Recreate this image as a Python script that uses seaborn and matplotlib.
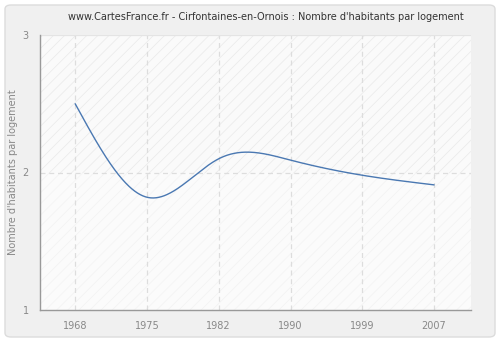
import numpy as np
import pandas as pd
import matplotlib
matplotlib.use("Agg")
import matplotlib.pyplot as plt
import seaborn as sns
from matplotlib.patches import FancyBboxPatch, Rectangle

# Data
years = ["1968", "1975", "1982", "1990", "1999", "2007"]
values = [2.50, 1.82, 2.10, 2.09, 1.98, 1.91]
yticks = [1, 2, 3]

title = "www.CartesFrance.fr - Cirfontaines-en-Ornois : Nombre d'habitants par logement"
ylabel = "Nombre d'habitants par logement"


def natural_spline(x, y, n=400):
    x = np.asarray(x, float)
    y = np.asarray(y, float)
    k = len(x)
    h = np.diff(x)
    A = np.zeros((k, k))
    b = np.zeros(k)
    A[0, 0] = 1
    A[-1, -1] = 1
    for i in range(1, k - 1):
        A[i, i - 1] = h[i - 1]
        A[i, i] = 2 * (h[i - 1] + h[i])
        A[i, i + 1] = h[i]
        b[i] = 3 * ((y[i + 1] - y[i]) / h[i] - (y[i] - y[i - 1]) / h[i - 1])
    c = np.linalg.solve(A, b)
    xs = np.linspace(x[0], x[-1], n)
    ys = np.empty_like(xs)
    for j, xv in enumerate(xs):
        i = min(np.searchsorted(x, xv, side="right") - 1, k - 2)
        dx = xv - x[i]
        bi = (y[i + 1] - y[i]) / h[i] - h[i] * (2 * c[i] + c[i + 1]) / 3
        di = (c[i + 1] - c[i]) / (3 * h[i])
        ys[j] = y[i] + bi * dx + c[i] * dx ** 2 + di * dx ** 3
    return xs, ys


sns.set_style("white")
plt.rcParams["font.family"] = ["DejaVu Sans"]
plt.rcParams["hatch.linewidth"] = 0.5

fig = plt.figure(figsize=(5, 3.4), dpi=100)
fig.patch.set_facecolor("white")
bg = FancyBboxPatch((5 / 500, 3 / 340), 490 / 500, 332 / 340,
                    boxstyle="round,pad=0,rounding_size=0.012",
                    transform=fig.transFigure, facecolor="#f0f0f0",
                    edgecolor="#dcdcdc", linewidth=1.0, zorder=-10)
fig.patches.append(bg)

ax = fig.add_axes([40 / 500, 1 - 310 / 340, 430.7 / 500, 275 / 340])
ax.set_facecolor("#fbfbfb")

ax.set_xlim(-0.49, 5.51)
ax.set_ylim(1, 3)

# upper band hatched more visibly, lower band faintly
ax.add_patch(Rectangle((-0.49, 2), 6.0, 1, facecolor="#fafafa",
                       edgecolor="#e9e9e9", hatch="///", linewidth=0, zorder=0))
ax.add_patch(Rectangle((-0.49, 1), 6.0, 1, facecolor="#fbfbfb",
                       edgecolor="#f2f2f2", hatch="///", linewidth=0, zorder=0))

idx = np.arange(len(years))
xs, ys = natural_spline(idx, values)
df = pd.DataFrame({"x": xs, "y": ys})
sns.lineplot(data=df, x="x", y="y", ax=ax, color="#4a78b2", linewidth=1.0, zorder=3)

ax.set_xticks(idx)
ax.set_xticklabels(years)
ax.set_yticks(yticks)
ax.set_yticklabels([str(t) for t in yticks])

for i in idx:
    ax.axvline(i, color="#dddddd", linestyle=(0, (4, 3)), linewidth=0.9, zorder=1)
ax.axhline(2, color="#dddddd", linestyle=(0, (4, 3)), linewidth=0.9, zorder=1)
ax.axhline(3, color="#e4e4e4", linestyle="-", linewidth=0.9, zorder=1)

for s in ["top", "right"]:
    ax.spines[s].set_visible(False)
for s in ["left", "bottom"]:
    ax.spines[s].set_color("#999999")
    ax.spines[s].set_linewidth(1.0)

ax.tick_params(axis="both", colors="#999999", labelcolor="#888888",
               labelsize=7, length=5, width=1, direction="out", pad=3)
ax.set_xlabel("")
ax.set_ylabel(ylabel, color="#888888", fontsize=7)
ax.yaxis.set_label_coords(-22 / 430.7, 0.5)

fig.text(266 / 500, 1 - 17 / 340, title, ha="center", va="center",
         fontsize=7, color="#333333")

fig.savefig("out.png", dpi=100, facecolor=fig.get_facecolor())
